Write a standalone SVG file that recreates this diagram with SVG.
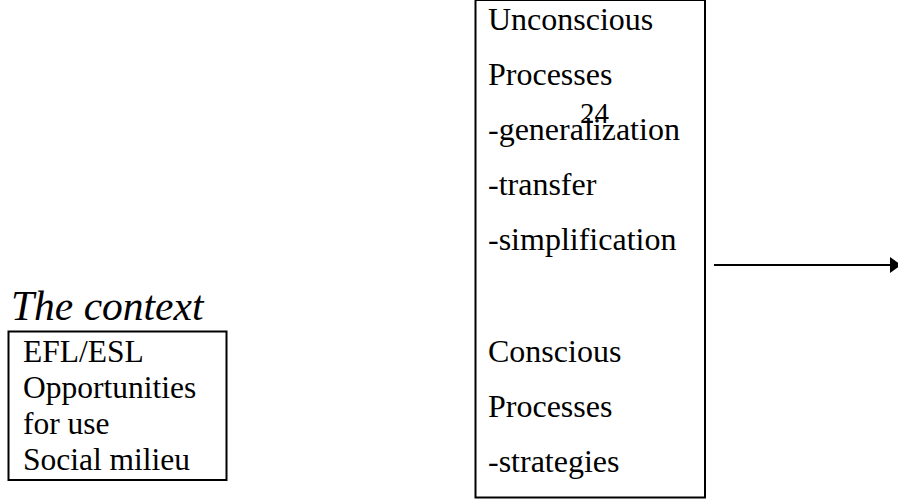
<svg xmlns="http://www.w3.org/2000/svg" width="898" height="499" viewBox="0 0 898 499">
<style>
.box{fill:#fff;stroke:#000;stroke-width:2}
text{font-family:'Liberation Serif','Times New Roman',serif;fill:#000}
.big{font-size:32px}
.small{font-size:31.5px}
</style>
<defs>
<marker id="ah" markerUnits="userSpaceOnUse" markerWidth="12" markerHeight="18" refX="0" refY="8" orient="auto">
<path d="M0,0 L11,8 L0,16 Z" fill="#000"/>
</marker>
</defs>
<rect width="898" height="499" fill="#fff"/>
<g id="processes">
<rect class="box" x="475.5" y="0" width="229.5" height="497.5"/>
<text class="big" x="488" y="30">Unconscious</text>
<text class="big" x="488" y="85">Processes</text>
<text class="big" x="488" y="140">-generalization</text>
<text class="big" x="488" y="195">-transfer</text>
<text class="big" x="488" y="250">-simplification</text>
<text class="big" x="488" y="362">Conscious</text>
<text class="big" x="488" y="417">Processes</text>
<text class="big" x="488" y="472">-strategies</text>
</g>
<g id="pagenum">
<text x="580" y="123" font-size="29">24</text>
</g>
<g id="context">
<text x="11" y="320" font-size="41.5" font-style="italic">The context</text>
<rect class="box" x="8.5" y="331.5" width="218" height="148.5"/>
<text class="small" x="23" y="362">EFL/ESL</text>
<text class="small" x="23" y="398">Opportunities</text>
<text class="small" x="23" y="434">for use</text>
<text class="small" x="23" y="470">Social milieu</text>
</g>
<g id="connectors">
<line x1="714" y1="265" x2="890" y2="265" stroke="#000" stroke-width="2" marker-end="url(#ah)"/>
</g>
</svg>
